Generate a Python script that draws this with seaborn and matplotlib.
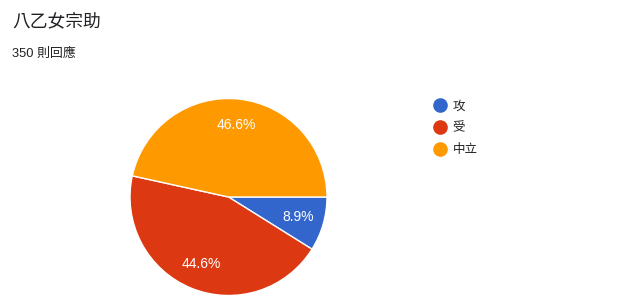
import matplotlib
matplotlib.use("Agg")
import matplotlib.pyplot as plt
from matplotlib.lines import Line2D
import seaborn as sns

sns.set_theme(style="white")
plt.rcParams['font.family'] = ['Liberation Sans', 'Noto Sans CJK TC', 'DejaVu Sans']

title = "八乙女宗助"
subtitle = "350 則回應"
categories = ["攻", "受", "中立"]
values = [8.9, 44.6, 46.6]
colors = ["#3366cc", "#dc3912", "#ff9900"]

W, H = 623, 306
fig = plt.figure(figsize=(W / 100, H / 100), dpi=100)
fig.patch.set_facecolor("white")

cx, cy, r = 228.5, 197, 98.5
ax = fig.add_axes([(cx - r) / W, (H - cy - r) / H, 2 * r / W, 2 * r / H])
wedges, texts, autotexts = ax.pie(
    values, colors=colors, startangle=0, counterclock=False,
    autopct="%.1f%%", pctdistance=0.74,
    wedgeprops=dict(edgecolor="white", linewidth=1),
    textprops=dict(color="white", fontsize=10, family=["Liberation Sans", "DejaVu Sans"]),
)
ax.set_xlim(-1, 1)
ax.set_ylim(-1, 1)
ax.set_aspect("equal")
ax.axis("off")

fig.text(12 / W, 1 - 21 / H, title, fontsize=12.8, color="#202124", va="center", ha="left",
         family=["Noto Sans CJK TC", "DejaVu Sans"])
fig.text(12 / W, 1 - 54 / H, subtitle, fontsize=9.3, color="#202124", va="center", ha="left")

handles = [Line2D([0], [0], marker="o", linestyle="none", markersize=9.5,
                  markerfacecolor=c, markeredgecolor=c) for c in colors]
fig.legend(handles, categories, loc="upper left",
           bbox_to_anchor=(434 / W, 1 - 99.5 / H), frameon=False,
           labelspacing=0.72, handlelength=1.0, handletextpad=0.5,
           borderpad=0, borderaxespad=0, labelcolor="#202124",
           prop=dict(family=["Noto Sans CJK TC", "DejaVu Sans"], size=9))

fig.savefig("out.png", dpi=100, facecolor="white")
